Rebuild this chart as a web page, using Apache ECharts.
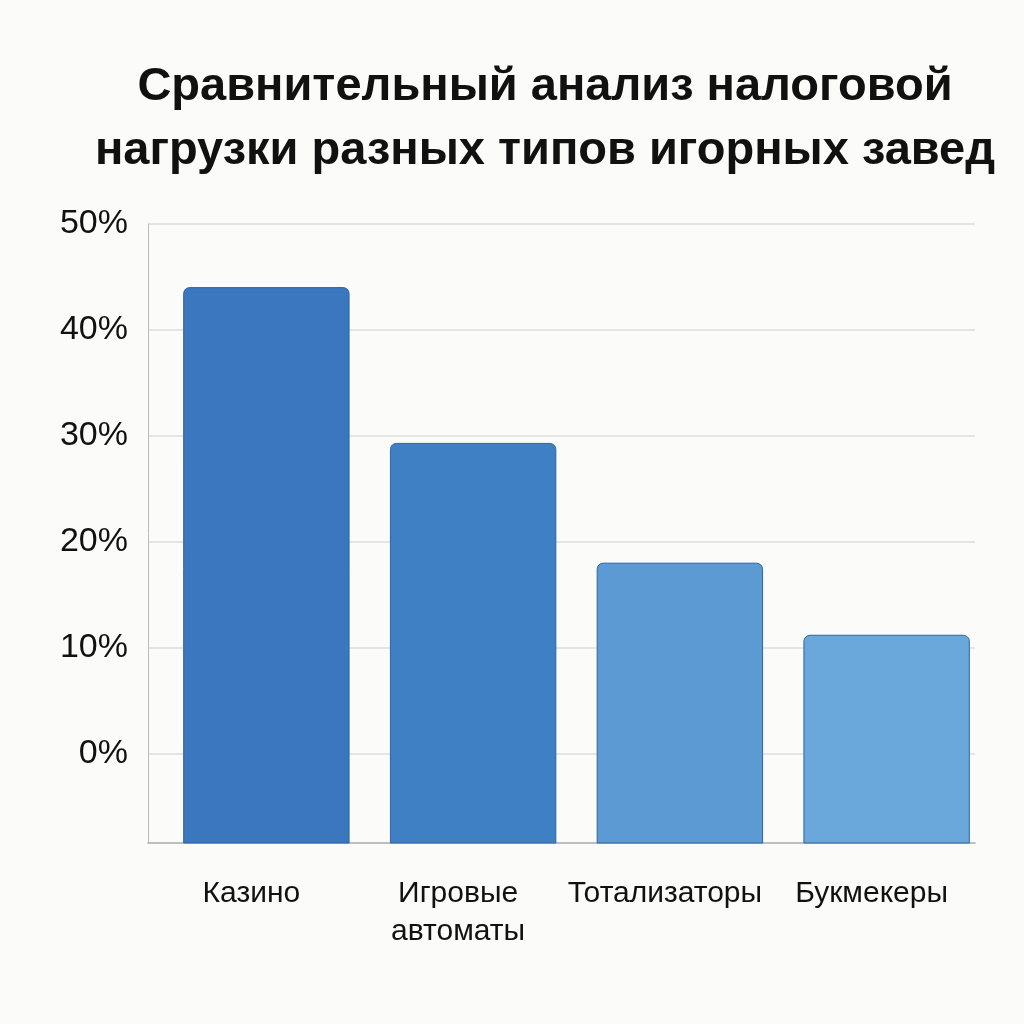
<!DOCTYPE html><html><head><meta charset="utf-8"><script src="https://cdn.jsdelivr.net/npm/echarts@6/dist/echarts.min.js"></script></head><body style="margin:0;background:#fbfbf9"><div id="c" style="width:1024px;height:1024px"></div><script>
const categories=['Казино','Игровые\nавтоматы','Тотализаторы','Букмекеры'];
const values=[44,29.3,18,11.2];
const colors=['#3a77be','#3e80c3','#5b9ad3','#6aa7db'];
const tickValues=[0,10,20,30,40,50];
const axisMin=-8.4;
const ch=echarts.init(document.getElementById('c'));
ch.setOption({backgroundColor:'#fbfbf9',
title:{text:'Сравнительный анализ налоговой\nнагрузки разных типов игорных завед',left:540,textAlign:'center',top:50,textStyle:{fontFamily:'Liberation Sans',fontWeight:'bold',fontSize:47,lineHeight:64,color:'#111'}},
grid:{left:148,right:49,top:224,bottom:181},
xAxis:{type:'category',data:categories,axisLine:{onZero:false,lineStyle:{color:'#aaa',width:1.5}},axisTick:{show:false},axisLabel:{fontFamily:'Liberation Sans',fontSize:30,color:'#111',margin:32,lineHeight:38,interval:0}},
yAxis:{type:'value',min:axisMin,max:50,axisLine:{show:true,lineStyle:{color:'#bbb'}},axisTick:{show:false,customValues:tickValues},splitLine:{show:true,lineStyle:{color:'#ddd',width:1.5}},axisLabel:{customValues:tickValues,formatter:'{value}%',fontFamily:'Liberation Sans',fontSize:34,color:'#111',margin:20}},
series:[{type:'custom',data:values.map((v,i)=>[i,v]),renderItem:(p,api)=>{const i=api.value(0);const top=api.coord([i,api.value(1)]);const bot=api.coord([i,axisMin]);const w=api.size([1,0])[0]*0.8;return{type:'rect',shape:{x:top[0]-w/2+15,y:top[1],width:w,height:bot[1]-top[1],r:[6,6,0,0]},style:{fill:colors[i],stroke:'#2f64a8',lineWidth:1}};}}]});
</script></body></html>
